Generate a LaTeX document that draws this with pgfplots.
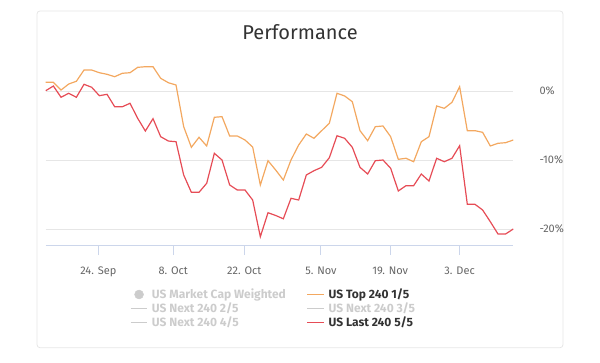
\documentclass[border=0pt]{standalone}
\usepackage{fontspec}
\setmainfont{Fira Sans}
\usepackage{pgfplots}
\usepackage{pgfplotstable}
\pgfplotsset{compat=1.18}
\definecolor{topc}{RGB}{243,168,96}
\definecolor{lastc}{RGB}{230,76,86}
\definecolor{gridc}{RGB}{230,230,230}
\definecolor{axisc}{RGB}{204,214,235}
\definecolor{labc}{RGB}{102,102,102}
\definecolor{titc}{RGB}{51,51,51}
\definecolor{offc}{RGB}{204,204,204}
\pgfplotstableread{
i top last
0 1.26 0.04
1 1.26 0.72
2 0.14 -0.91
3 1.01 -0.33
4 1.41 -0.91
5 3.04 0.97
6 3.04 0.54
7 2.65 -0.68
8 2.42 -0.48
9 2.07 -2.28
10 2.57 -2.28
11 2.65 -1.78
12 3.43 -3.96
13 3.52 -5.80
14 3.52 -4.01
15 1.84 -6.62
16 1.20 -7.25
17 0.87 -7.35
18 -5.17 -12.17
19 -8.16 -14.68
20 -6.71 -14.68
21 -7.97 -13.38
22 -3.81 -9.03
23 -3.72 -10.00
24 -6.52 -13.62
25 -6.52 -14.35
26 -7.10 -14.35
27 -8.12 -15.80
28 -13.62 -21.12
29 -10.10 -17.64
30 -11.45 -18.04
31 -12.90 -18.52
32 -10.00 -15.55
33 -7.83 -15.80
34 -6.23 -12.17
35 -6.86 -11.55
36 -5.75 -11.06
37 -4.68 -9.67
38 -0.33 -6.48
39 -0.72 -6.86
40 -1.55 -8.16
41 -5.75 -11.06
42 -7.20 -12.03
43 -5.17 -10.10
44 -5.07 -10.00
45 -6.62 -11.20
46 -9.90 -14.49
47 -9.75 -13.72
48 -10.25 -13.72
49 -7.35 -12.03
50 -6.62 -13.04
51 -2.17 -9.75
52 -2.51 -10.25
53 -1.64 -9.75
54 0.62 -7.93
55 -5.75 -16.42
56 -5.75 -16.42
57 -5.99 -17.25
58 -7.97 -18.94
59 -7.58 -20.72
60 -7.49 -20.72
61 -7.10 -20.00
}\perf
\begin{document}
\begin{tikzpicture}
\path (0pt,0pt) rectangle (600pt,362pt);
\draw[gridc, line width=0.8pt, rounded corners=3pt] (37pt,14.3pt) rectangle (563pt,351pt);
\node[anchor=base, inner sep=0pt, text=titc, font=\fontsize{20}{24}\selectfont] at (300pt,322.7pt) {Performance};
\begin{axis}[
  at={(45.7pt,116.3pt)}, anchor=south west,
  scale only axis, width=467.6pt, height=189.2pt,
  xmin=0, xmax=61, ymin=-22.42, ymax=5,
  axis x line*=bottom, axis y line*=right,
  x axis line style={axisc, line width=1pt, -},
  y axis line style={draw=none},
  xtick={6.86,16.64,25.91,35.91,44.95,54.0},
  xticklabels={24. Sep,8. Oct,22. Oct,5. Nov,19. Nov,3. Dec},
  tick align=outside, major tick length=9.3pt,
  xtick style={axisc, line width=1pt},
  xticklabel style={anchor=base, inner sep=0pt, yshift=-19.3pt, text=labc, font=\fontsize{11}{13}\selectfont},
  ytick={-20,-10,0},
  yticklabels={-20\%,-10\%,0\%},
  ymajorgrids, grid style={gridc, line width=1pt},
  ytick style={draw=none},
  yticklabel pos=right,
  yticklabel style={anchor=west, inner sep=0pt, xshift=16.7pt, text=labc, font=\fontsize{11}{13}\selectfont},
  legend columns=2,
  legend image code/.code={\draw[#1] (0pt,3.9pt) -- (16.7pt,3.9pt);},
  legend style={draw=none, fill=none, inner sep=0pt,
    at={(0.1803,-0.2299)}, anchor=north west,
    font=\bfseries\fontsize{12}{14}\selectfont,
    cells={anchor=base west},
    nodes={inner sep=0pt, text height=9pt, text depth=5.2pt},
    /tikz/every odd column/.append style={column sep=4pt},
    /tikz/every even column/.append style={column sep=21pt}},
]
\addplot[topc, line width=1.2pt, forget plot] table[x=i, y=top] {\perf};
\addplot[lastc, line width=1.2pt, forget plot] table[x=i, y=last] {\perf};
\addlegendimage{legend image code/.code={\fill[offc] (8.35pt,3.9pt) circle (4.5pt);}}
\addlegendentry{\textcolor{offc}{US Market Cap Weighted}}
\addlegendimage{topc, line width=1pt}
\addlegendentry{\textcolor{titc}{US Top 240 1/5}}
\addlegendimage{offc, line width=1pt}
\addlegendentry{\textcolor{offc}{US Next 240 2/5}}
\addlegendimage{offc, line width=1pt}
\addlegendentry{\textcolor{offc}{US Next 240 3/5}}
\addlegendimage{offc, line width=1pt}
\addlegendentry{\textcolor{offc}{US Next 240 4/5}}
\addlegendimage{lastc, line width=1pt}
\addlegendentry{\textcolor{titc}{US Last 240 5/5}}
\end{axis}
\end{tikzpicture}
\end{document}
